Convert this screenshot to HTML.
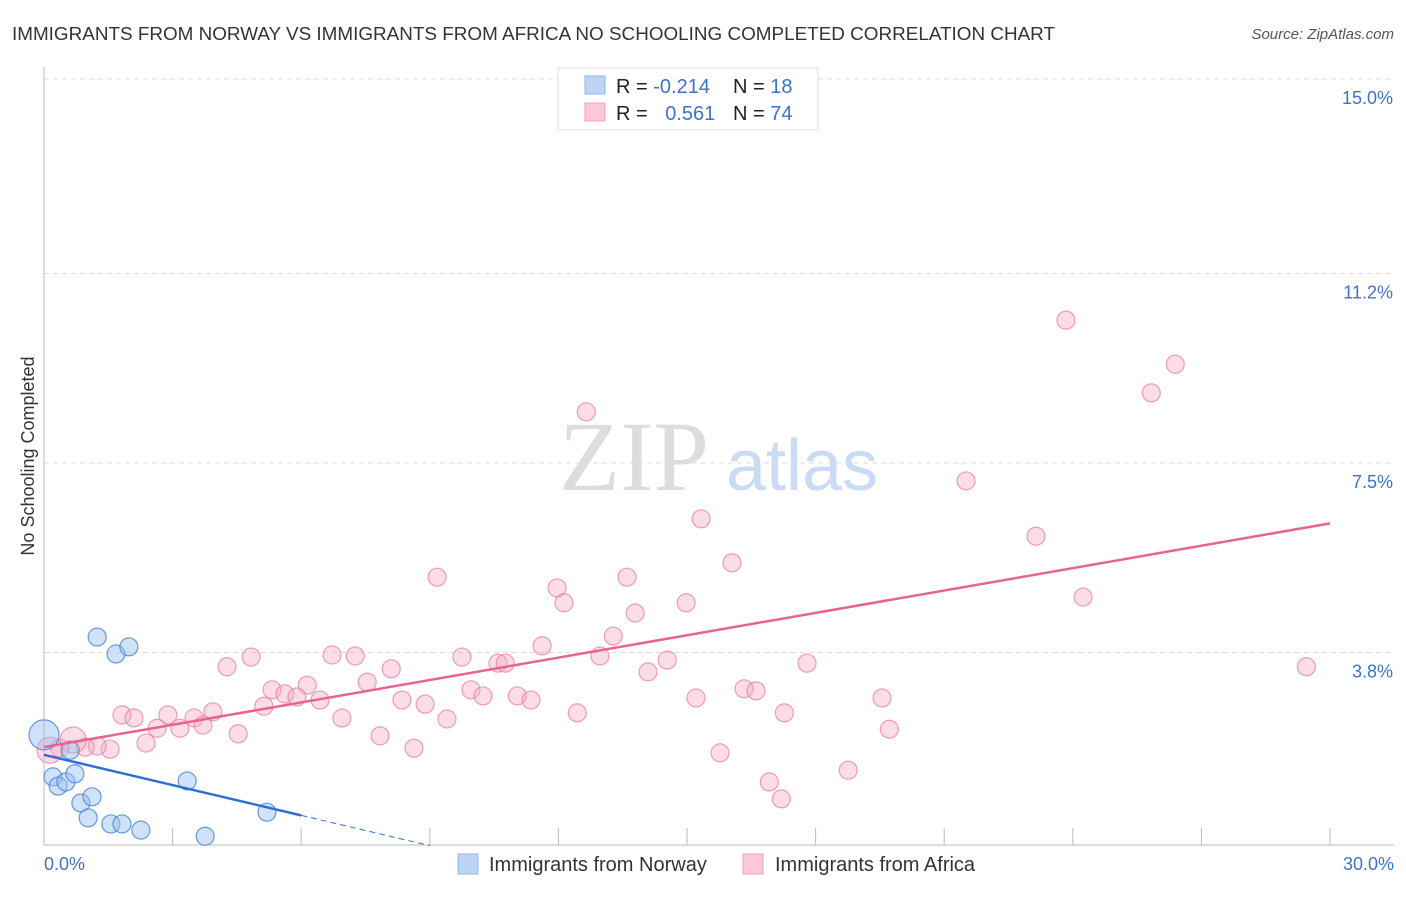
<!DOCTYPE html>
<html><head><meta charset="utf-8"><style>
body{margin:0;background:#fff;font-family:"Liberation Sans",sans-serif;}
svg text{font-family:"Liberation Sans",sans-serif;}
</style></head><body>
<svg id="chart" width="1406" height="892">
<text x="12" y="40" font-size="18" fill="#333" textLength="1043" lengthAdjust="spacingAndGlyphs">IMMIGRANTS FROM NORWAY VS IMMIGRANTS FROM AFRICA NO SCHOOLING COMPLETED CORRELATION CHART</text>
<text x="1394" y="39" font-size="15" fill="#555" text-anchor="end" font-style="italic">Source: ZipAtlas.com</text>
<text x="34" y="456" font-size="18" fill="#333" text-anchor="middle" transform="rotate(-90 34 456)">No Schooling Completed</text>
<g><text x="634" y="490" font-size="100" fill="#ddd" text-anchor="middle" style="font-family:'Liberation Serif',serif">ZIP</text><text x="802" y="490" font-size="72" fill="#c9dcf3" text-anchor="middle">atlas</text></g>
<g id="grid"></g><g id="marks"></g>
<g>
<rect x="558" y="68" width="260" height="62" fill="#fff" stroke="#ddd"/>
<rect x="585" y="76" width="20" height="18" fill="#bcd4f6" stroke="#8fb3e8"/>
<rect x="585" y="103" width="20" height="18" fill="#fcc8d6" stroke="#f0a0b8"/>
<text x="616" y="93" font-size="20" fill="#222">R = <tspan fill="#3d73c9">-0.214</tspan></text>
<text x="733" y="93" font-size="20" fill="#222">N = <tspan fill="#3d73c9">18</tspan></text>
<text x="616" y="120" font-size="20" fill="#222">R = <tspan fill="#3d73c9" dx="12">0.561</tspan></text>
<text x="733" y="120" font-size="20" fill="#222">N = <tspan fill="#3d73c9">74</tspan></text>
</g>
<g>
<rect x="458" y="854" width="20" height="20" fill="#bcd4f6" stroke="#8fb3e8"/>
<text x="489" y="871" font-size="20" fill="#333">Immigrants from Norway</text>
<rect x="743" y="854" width="20" height="20" fill="#fcc8d6" stroke="#f0a0b8"/>
<text x="775" y="871" font-size="20" fill="#333">Immigrants from Africa</text>
</g>
</svg>
<script>
const yTicks=[3.8,7.5,11.2,15.0];
const yTickLabels=["3.8%","7.5%","11.2%","15.0%"];
const xTickLabels=["0.0%","30.0%"];
const norwayX=[1.24,1.68,1.98,0.21,0.33,0.51,0.72,0.86,1.12,1.03,1.56,1.82,2.26,3.34,3.76,5.20,0.0,0.61];
const norwayY=[4.10,3.77,3.91,1.37,1.19,1.27,1.43,0.86,0.98,0.57,0.45,0.45,0.33,1.29,0.21,0.68,2.19,1.89];
const africaX=[23.84,26.39,25.83,12.65,21.51,15.33,23.14,16.05,9.17,13.60,11.97,12.13,24.24,14.98,13.79,13.28,11.62,12.97,9.75,6.72,7.26,4.83,4.27,10.59,10.76,8.10,14.54,17.80,29.45,14.09,7.54,6.14,5.32,5.62,5.90,6.44,5.13,8.35,8.89,9.96,10.24,11.04,11.36,16.33,16.61,15.21,19.55,3.94,2.89,3.50,1.82,2.10,3.17,3.71,2.64,6.95,9.40,12.44,17.27,4.53,7.84,19.72,2.38,1.54,1.24,0.96,0.68,0.37,0.14,8.63,15.77,18.76,16.92,17.20];
const africaY=[10.29,9.43,8.87,8.50,7.15,6.41,6.07,5.55,5.27,5.27,5.06,4.77,4.88,4.77,4.57,4.12,3.93,3.73,3.71,3.75,3.73,3.71,3.52,3.59,3.59,3.48,3.65,3.59,3.52,3.42,3.22,3.16,3.07,2.99,2.93,2.87,2.75,2.87,2.79,3.07,2.95,2.95,2.87,3.09,3.05,2.91,2.91,2.64,2.58,2.52,2.58,2.52,2.32,2.38,2.32,2.52,2.50,2.62,2.62,2.21,2.17,2.30,2.03,1.91,1.97,1.95,2.09,1.93,1.89,1.93,1.84,1.50,1.27,0.94];
const norwayTrend=[1.80,-0.197];
const africaTrend=[1.95,0.1457];
const X=v=>44+v/30*1286, Y=v=>847-v/3.75*192;
const NS="http://www.w3.org/2000/svg";
function mk(t,a,p){const e=document.createElementNS(NS,t);for(const k in a)e.setAttribute(k,a[k]);p.appendChild(e);return e;}
const grid=document.getElementById('grid'), marks=document.getElementById('marks');
yTicks.forEach((v,i)=>{
 const l=mk('line',{x1:44,x2:1394,y1:Y(v),y2:Y(v),stroke:'#ddd','stroke-dasharray':'5,4'},grid);
 
 
 const t=mk('text',{x:1393,y:Y(v)+25,'font-size':18,fill:'#3d73c9','text-anchor':'end'},grid);t.textContent=yTickLabels[i];
 
 
});
let ax=mk('line',{x1:44,x2:44,y1:67,y2:845,stroke:'#bbb'},grid);


ax=mk('line',{x1:44,x2:1394,y1:845,y2:845,stroke:'#bbb'},grid);


for(let i=1;i<=10;i++){const tk=mk('line',{x1:X(i*3),x2:X(i*3),y1:828,y2:845,stroke:'#bbb'},grid);
 
 }
[[0,'start',44],[30,'end',1394]].forEach((d,i)=>{const t=mk('text',{x:d[2],y:870,'font-size':18,fill:'#3d73c9','text-anchor':d[1]},grid);t.textContent=xTickLabels[i];
 
 });
function dots(xs,ys,fill,stroke,name){xs.forEach((x,i)=>{
 const c=mk('circle',{cx:X(x),cy:Y(ys[i]),r:(name==='norway-point'&&x===0)?15:(name==='africa-point'&&(i===66||i===68))?13:9,fill:fill,stroke:stroke,'stroke-width':1.2},marks);
 
 });}
dots(africaX,africaY,'rgba(248,170,195,0.4)','rgba(232,120,155,0.7)','africa-point');
dots(norwayX,norwayY,'rgba(150,190,240,0.45)','rgba(70,130,210,0.8)','norway-point');
let ln=mk('line',{x1:X(0),y1:Y(africaTrend[0]),x2:X(30),y2:Y(africaTrend[0]+africaTrend[1]*30),stroke:'#e8638f','stroke-width':2.5},marks);


ln=mk('line',{x1:X(0),y1:Y(norwayTrend[0]),x2:X(6),y2:Y(norwayTrend[0]+norwayTrend[1]*6),stroke:'#2f6fd3','stroke-width':2.5},marks);


ln=mk('line',{x1:X(6),y1:Y(norwayTrend[0]+norwayTrend[1]*6),x2:X(9),y2:Y(norwayTrend[0]+norwayTrend[1]*9),stroke:'#2f6fd3','stroke-width':1,'stroke-dasharray':'6,4'},marks);


</script>
</body></html>
